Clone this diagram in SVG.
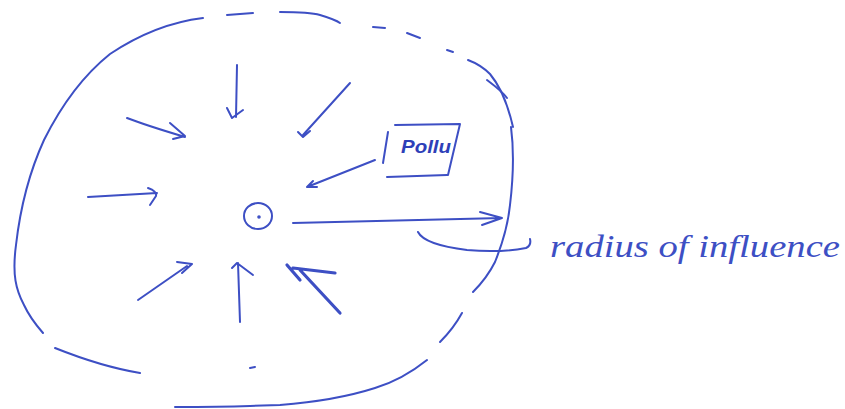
<svg xmlns="http://www.w3.org/2000/svg" width="845" height="409" viewBox="0 0 845 409">
<style>
.ink{fill:none;stroke:#3d4fc4;stroke-width:2;stroke-linecap:round;stroke-linejoin:round}
.thick{stroke-width:3.2}
.hand{fill:#3d4fc4;font-family:"Liberation Serif","DejaVu Serif",serif;font-style:italic}
.lbl{fill:#2e3fb8;font-family:"Liberation Sans","DejaVu Sans",sans-serif;font-weight:bold;font-style:italic}
</style>
<rect width="845" height="409" fill="#ffffff"/>
<g id="radius-of-influence-boundary" class="ink">
<path d="M203,18 C170,22 140,34 110,54 C80,78 60,108 44,140 C28,175 20,210 16,245 C12,275 16,290 24,305 C30,318 36,325 43,333"/>
<path d="M55,348 C80,358 110,368 140,373"/>
<path d="M227,15 L253,13"/>
<path d="M280,12 C295,12 310,12 320,15 C330,18 336,20 340,23"/>
<path d="M373,27 L385,28"/>
<path d="M407,33 L420,38"/>
<path d="M447,50 L453,52"/>
<path d="M468,60 C476,63 483,67 490,74 C500,86 508,105 513,127"/>
<path d="M487,80 C495,86 502,91 507,98"/>
<path d="M511,127 C514,150 513,180 510,205 C508,225 503,242 495,262 C488,276 480,285 473,292"/>
<path d="M462,313 C456,324 448,334 440,342"/>
<path d="M427,360 C412,372 395,382 375,388 C350,396 318,402 280,405 L250,406 C220,407 195,407 175,407"/>
<path d="M250,368 L255,367"/>
</g>
<g id="well" class="ink">
<ellipse cx="258" cy="216" rx="14" ry="13"/>
<circle cx="259" cy="217" r="0.8" fill="#3d4fc4"/>
</g>
<g id="pollutant-box">
<path class="ink" d="M395,125 L460,124 L448,175 M387,177 L447,175 M388,132 L383,163"/>
<text class="lbl" x="401" y="153" font-size="18" textLength="50" lengthAdjust="spacingAndGlyphs">Pollu</text>
</g>
<g id="label-radius">
<path class="ink" d="M418,232 C422,240 435,246 467,250 C490,252 510,251 526,248 C530,246 531,243 530,239"/>
<text class="hand" x="550" y="257" font-size="32" textLength="290" lengthAdjust="spacingAndGlyphs">radius of influence</text>
</g>
<g id="connectors" class="ink">
<path d="M237,65 L236,117 M227,108 L232,118 L243,110"/>
<path d="M350,83 L303,135 M298,132 L303,137 L310,131"/>
<path d="M127,118 C145,125 165,131 185,137 M170,123 L185,136 L173,139"/>
<path d="M88,197 L157,193 M148,188 C154,190 157,193 156,196 L150,205"/>
<path d="M375,160 L307,187 M313,181 L307,187 L317,187"/>
<path d="M138,300 L187,266 M177,262 L192,264 L182,273"/>
<path d="M240,322 L238,263 M232,268 L237,263 L253,275"/>
<path class="thick" d="M340,313 L300,270 M287,265 L300,280 M293,268 L335,273"/>
<path d="M293,223 L502,218 M480,212 L502,218 L482,225"/>
</g>
</svg>
